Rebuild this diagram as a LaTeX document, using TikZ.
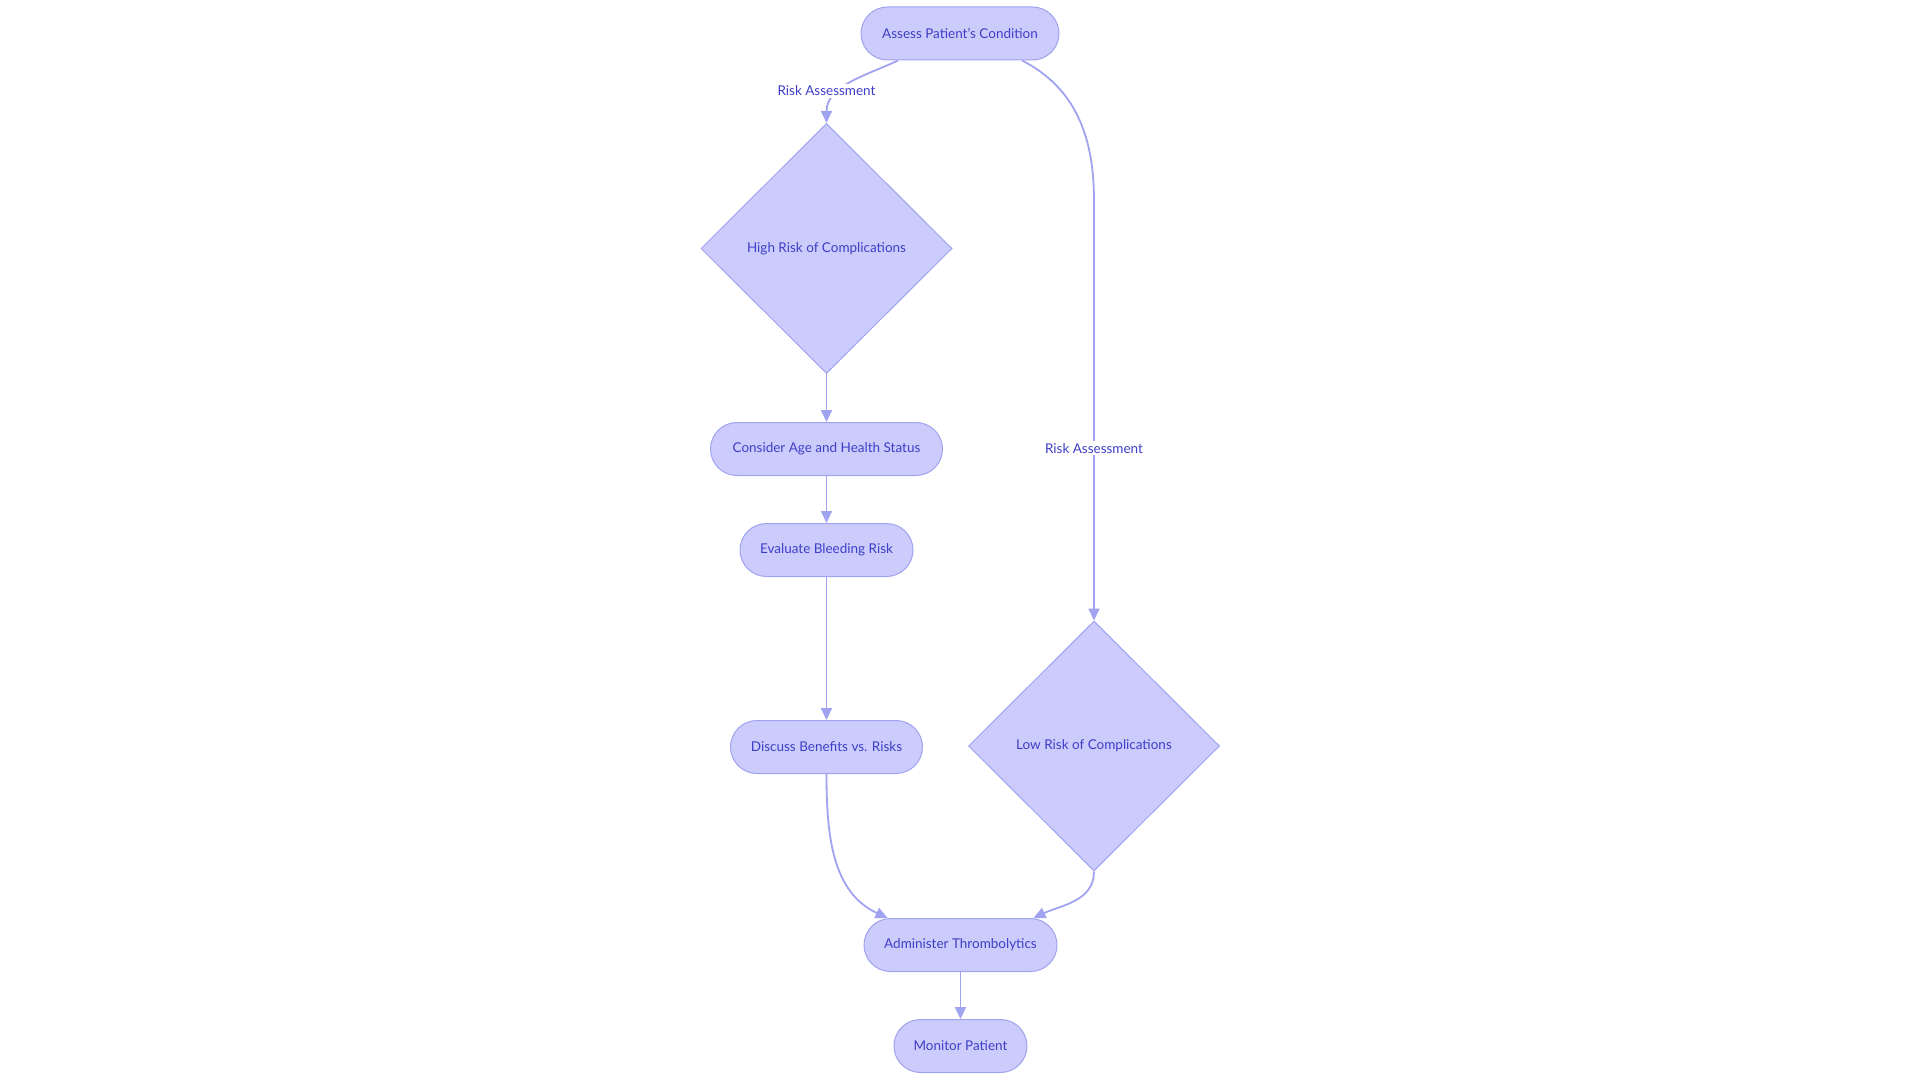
\documentclass[tikz,border=0pt]{standalone}
\usepackage{fontspec}
\setmainfont{Lato}
\usetikzlibrary{arrows.meta,positioning,shapes.geometric}
\definecolor{nodefill}{RGB}{203,204,251}
\definecolor{nodeline}{RGB}{160,163,240}
\definecolor{nodetext}{RGB}{62,62,200}
\tikzset{
  pill/.style={draw=nodeline, line width=1pt, fill=nodefill, rounded corners=26.5pt,
    minimum height=53pt, inner sep=0pt, align=center, text=nodetext},
  decision/.style={diamond, draw=nodeline, line width=1pt, fill=nodefill,
    minimum width=251pt, minimum height=250pt, inner sep=0pt, text=nodetext},
  lbl/.style={fill=white, text=nodetext, inner sep=2pt},
  arr/.style={draw=nodeline, line width=1.8pt, -{Triangle[length=12pt,width=11pt]}}
}
\begin{document}
\begin{tikzpicture}[x=1pt, y=-1pt, font=\fontsize{13.5}{16}\selectfont]
  \useasboundingbox (0,0) rectangle (1920,1083);

  \node[pill, minimum width=198pt] (assess) at (960,33.5) {Assess Patient's Condition};
  \node[decision] (high) at (826.5,248.5) {High Risk of Complications};
  \node[pill, below=48pt of high, minimum width=232pt] (consider) {Consider Age and Health Status};
  \node[pill, below=47pt of consider, minimum width=173pt] (evaluate) {Evaluate Bleeding Risk};
  \node[pill, below=143pt of evaluate, minimum width=192pt] (discuss) {Discuss Benefits vs. Risks};
  \node[decision] (low) at (1094,746) {Low Risk of Complications};
  \node[pill, minimum width=193pt] (admin) at (960.5,945) {Administer Thrombolytics};
  \node[pill, below=47pt of admin, minimum width=133pt] (monitor) {Monitor Patient};

  \draw[arr] ([xshift=-62pt]assess.south) to[out=-155, in=90] (high.north);
  \node[lbl] (riskA) at (826.5,90.6) {Risk Assessment};
  \draw[arr] ([xshift=62pt]assess.south) to[out=-27, in=90] ([yshift=-140pt]assess.south -| low.north)
    -- node[lbl, pos=0.59] (riskB) {Risk Assessment} (low.north);

  \draw[arr] (high) -- (consider);
  \draw[arr] (consider) -- (evaluate);
  \draw[arr] (evaluate) -- (discuss);
  \draw[arr] (discuss.south) to[out=-90, in=155] ([xshift=-73pt]admin.north);
  \draw[arr] (low.south) to[out=-90, in=25] ([xshift=73pt]admin.north);
  \draw[arr] (admin) -- (monitor);
\end{tikzpicture}
\end{document}
